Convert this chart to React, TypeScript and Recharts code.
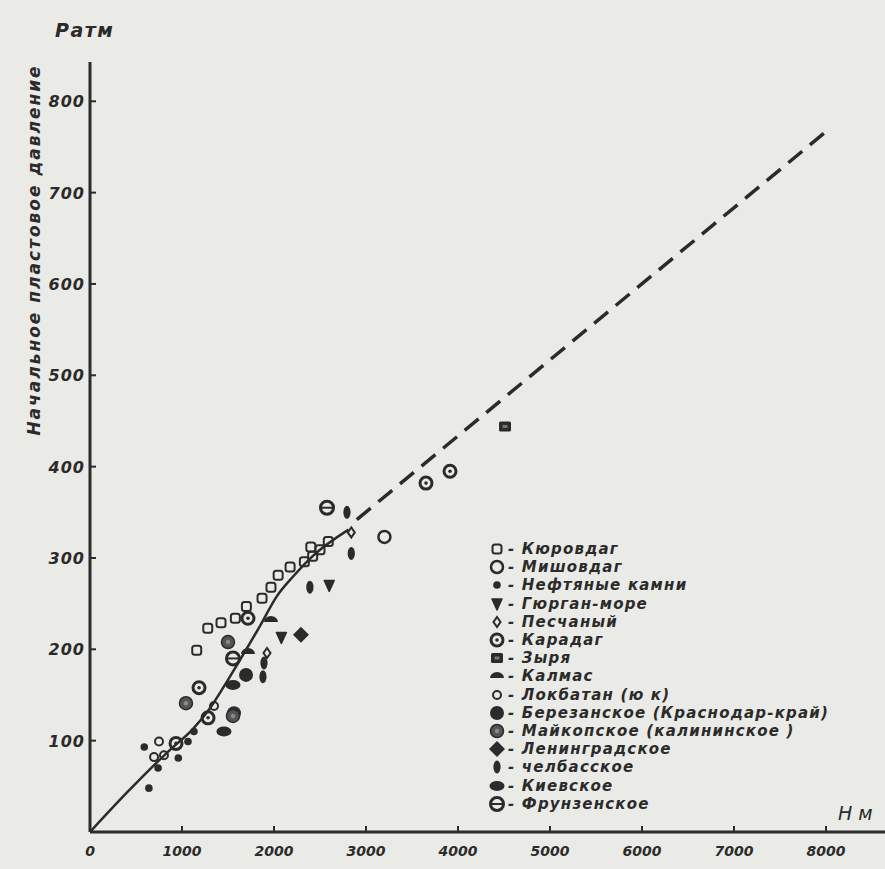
import { ComposedChart, Scatter, Line, XAxis, YAxis, Legend } from "recharts";

const INK = "#2b2b2b";
const PAPER = "#eaeae7";
const FONT = "'DejaVu Sans', sans-serif";

const xTicks = [0, 1000, 2000, 3000, 4000, 5000, 6000, 7000, 8000];
const yTicks = [100, 200, 300, 400, 500, 600, 700, 800];

// сглаженная кривая и её экстраполяция (пунктир)
const curveSolid = [
  { h: 0, p: 0 },
  { h: 400, p: 43 },
  { h: 870, p: 90 },
  { h: 1120, p: 113 },
  { h: 1300, p: 135 },
  { h: 1490, p: 165 },
  { h: 1850, p: 226 },
  { h: 2030, p: 258 },
  { h: 2210, p: 280 },
  { h: 2420, p: 302 },
  { h: 2810, p: 331 },
];
const curveDashed = [
  { h: 2900, p: 342 },
  { h: 8050, p: 771 },
];

// точки по месторождениям: h — глубина, м; p — давление, атм
const kyurovdag = [
  { h: 1160, p: 199 }, { h: 1280, p: 223 }, { h: 1424, p: 229 }, { h: 1580, p: 234 },
  { h: 1700, p: 247 }, { h: 1870, p: 256 }, { h: 1967, p: 268 }, { h: 2045, p: 281 },
  { h: 2175, p: 290 }, { h: 2330, p: 296 }, { h: 2420, p: 302 }, { h: 2400, p: 312 },
  { h: 2500, p: 309 }, { h: 2590, p: 318 },
];
const mishovdag = [{ h: 3200, p: 323 }];
const neftKamni = [
  { h: 590, p: 93 }, { h: 640, p: 48 }, { h: 740, p: 70 }, { h: 960, p: 81 },
  { h: 1065, p: 99 }, { h: 1130, p: 110 },
];
const gyurgan = [{ h: 2600, p: 270 }, { h: 2080, p: 213 }];
const peschany = [{ h: 2840, p: 328 }, { h: 1924, p: 196 }];
const karadag = [
  { h: 3913, p: 395 }, { h: 3652, p: 382 }, { h: 1185, p: 158 }, { h: 935, p: 97 },
  { h: 1717, p: 234 }, { h: 1283, p: 125 },
];
const zyrya = [{ h: 4511, p: 444 }];
const kalmas = [{ h: 1717, p: 197 }, { h: 1967, p: 232 }];
const lokbatan = [
  { h: 750, p: 99 }, { h: 696, p: 82 }, { h: 804, p: 84 }, { h: 1348, p: 138 },
];
const berezanskoe = [{ h: 1696, p: 172 }, { h: 1565, p: 130 }];
const maikopskoe = [{ h: 1500, p: 208 }, { h: 1043, p: 141 }, { h: 1554, p: 127 }];
const leningradskoe = [{ h: 2293, p: 216 }];
const chelbasskoe = [
  { h: 2793, p: 350 }, { h: 2840, p: 305 }, { h: 2390, p: 268 }, { h: 1891, p: 185 },
  { h: 1880, p: 170 },
];
const kievskoe = [{ h: 1456, p: 110 }, { h: 1554, p: 161 }];
const frunzenskoe = [{ h: 2576, p: 355 }, { h: 1554, p: 190 }];

const series = [
  { name: "Кюровдаг", kind: "square", data: kyurovdag },
  { name: "Мишовдаг", kind: "ring", data: mishovdag },
  { name: "Нефтяные камни", kind: "dot", data: neftKamni },
  { name: "Гюрган-море", kind: "triangle", data: gyurgan },
  { name: "Песчаный", kind: "smallDiamond", data: peschany },
  { name: "Карадаг", kind: "bullseye", data: karadag },
  { name: "Зыря", kind: "filledSquare", data: zyrya },
  { name: "Калмас", kind: "halfDisc", data: kalmas },
  { name: "Локбатан (ю к)", kind: "smallRing", data: lokbatan },
  { name: "Березанское (Краснодар-край)", kind: "disc", data: berezanskoe },
  { name: "Майкопское (калининское )", kind: "grayDisc", data: maikopskoe },
  { name: "Ленинградское", kind: "diamond", data: leningradskoe },
  { name: "челбасское", kind: "drop", data: chelbasskoe },
  { name: "Киевское", kind: "lens", data: kievskoe },
  { name: "Фрунзенское", kind: "barRing", data: frunzenskoe },
];

function Marker({ kind, cx, cy }: { kind: string; cx: number; cy: number }) {
  switch (kind) {
    case "square":
      return <rect x={cx - 4.5} y={cy - 4.5} width={9} height={9} rx={2.5} fill="none" stroke={INK} strokeWidth={2} />;
    case "ring":
      return <circle cx={cx} cy={cy} r={6} fill="none" stroke={INK} strokeWidth={2.5} />;
    case "dot":
      return <circle cx={cx} cy={cy} r={3.8} fill={INK} />;
    case "triangle":
      return <path d={`M${cx - 5},${cy - 5} L${cx + 5},${cy - 5} L${cx},${cy + 6} Z`} fill={INK} stroke={INK} strokeWidth={1.5} strokeLinejoin="round" />;
    case "smallDiamond":
      return <path d={`M${cx},${cy - 5} L${cx + 3.5},${cy} L${cx},${cy + 5} L${cx - 3.5},${cy} Z`} fill="none" stroke={INK} strokeWidth={2} />;
    case "bullseye":
      return (
        <g>
          <circle cx={cx} cy={cy} r={6} fill="none" stroke={INK} strokeWidth={3} />
          <circle cx={cx} cy={cy} r={1.8} fill={INK} />
        </g>
      );
    case "filledSquare":
      return (
        <g>
          <rect x={cx - 6} y={cy - 5} width={12} height={10} rx={1.5} fill={INK} />
          <rect x={cx - 2.5} y={cy - 1.5} width={5} height={3} fill="#777" />
        </g>
      );
    case "halfDisc":
      return <path d={`M${cx - 7},${cy + 2} A7,6 0 0 1 ${cx + 7},${cy + 2} Z`} fill={INK} />;
    case "smallRing":
      return <circle cx={cx} cy={cy} r={4} fill="none" stroke={INK} strokeWidth={2} />;
    case "disc":
      return <circle cx={cx} cy={cy} r={7} fill={INK} />;
    case "grayDisc":
      return (
        <g>
          <circle cx={cx} cy={cy} r={6.5} fill="#555" stroke={INK} strokeWidth={1.5} />
          <circle cx={cx} cy={cy} r={2.2} fill="#8a8a8a" />
        </g>
      );
    case "diamond":
      return <path d={`M${cx},${cy - 8} L${cx + 8},${cy} L${cx},${cy + 8} L${cx - 8},${cy} Z`} fill={INK} />;
    case "drop":
      return <ellipse cx={cx} cy={cy} rx={3.6} ry={6.5} fill={INK} />;
    case "lens":
      return <ellipse cx={cx} cy={cy} rx={7.5} ry={5} fill={INK} />;
    case "barRing":
      return (
        <g>
          <circle cx={cx} cy={cy} r={6.5} fill="none" stroke={INK} strokeWidth={3} />
          <line x1={cx - 5} x2={cx + 5} y1={cy} y2={cy} stroke={INK} strokeWidth={2} />
        </g>
      );
    default:
      return null;
  }
}

const XTick = (props: any) => {
  const { x, y, payload } = props;
  return (
    <g>
      {payload.value !== 0 && <line x1={x} x2={x} y1={y - 12} y2={y - 18} stroke={INK} strokeWidth={2} />}
      <text x={x} y={y} dy={12} textAnchor="middle" fill={INK} fontSize={14} fontStyle="italic" fontWeight="bold" fontFamily={FONT}>
        {payload.value}
      </text>
    </g>
  );
};

const YTick = (props: any) => {
  const { x, y, payload } = props;
  return (
    <g>
      <line x1={x + 12} x2={x + 18} y1={y} y2={y} stroke={INK} strokeWidth={2} />
      <text x={x + 7} y={y} dy={6} textAnchor="end" fill={INK} fontSize={16} fontStyle="italic" fontWeight="bold" fontFamily={FONT} letterSpacing={1}>
        {payload.value}
      </text>
    </g>
  );
};

const LegendBox = () => (
  <div style={{ fontFamily: FONT, fontStyle: "italic", fontWeight: "bold", fontSize: 15, letterSpacing: 1.2, color: INK }}>
    {series.map((s) => (
      <div key={s.name} style={{ display: "flex", alignItems: "center", height: 18.2, whiteSpace: "nowrap" }}>
        <svg width={18} height={18} style={{ flex: "none" }}>
          <Marker kind={s.kind} cx={9} cy={9} />
        </svg>
        <span style={{ marginLeft: 2 }}>- {s.name}</span>
      </div>
    ))}
  </div>
);

export default function App() {
  const titleStyle = {
    position: "absolute" as const,
    fontFamily: FONT,
    fontStyle: "italic",
    fontWeight: "bold" as const,
    color: INK,
    whiteSpace: "nowrap" as const,
  };
  return (
    <div style={{ position: "absolute", left: 0, top: 0, width: 885, height: 869, background: PAPER, overflow: "hidden" }}>
      <ComposedChart width={885} height={869} margin={{ top: 62, right: 0, left: 30, bottom: 7 }}>
        <XAxis
          type="number"
          dataKey="h"
          domain={[0, 8641]}
          ticks={xTicks}
          interval={0}
          height={30}
          tickSize={6}
          tickMargin={6}
          tickLine={false}
          axisLine={{ stroke: INK, strokeWidth: 3 }}
          tick={<XTick />}
          allowDataOverflow
        />
        <YAxis
          type="number"
          dataKey="p"
          domain={[0, 843]}
          ticks={yTicks}
          interval={0}
          width={60}
          tickSize={6}
          tickMargin={6}
          tickLine={false}
          axisLine={{ stroke: INK, strokeWidth: 3 }}
          tick={<YTick />}
          allowDataOverflow
        />
        <Line data={curveSolid} dataKey="p" type="monotone" stroke={INK} strokeWidth={2.5} dot={false} activeDot={false} isAnimationActive={false} legendType="none" />
        <Line data={curveDashed} dataKey="p" type="linear" stroke={INK} strokeWidth={3.5} strokeDasharray="18 10" dot={false} activeDot={false} isAnimationActive={false} legendType="none" />
        {series.map((s) => (
          <Scatter
            key={s.name}
            name={s.name}
            data={s.data}
            dataKey="p"
            isAnimationActive={false}
            shape={(p: any) => <Marker kind={s.kind} cx={p.cx} cy={p.cy} />}
          />
        ))}
        <Legend
          layout="horizontal"
          verticalAlign="middle"
          align="center"
          content={() => <LegendBox />}
          wrapperStyle={{ left: 488, top: 540, width: 360, height: 280 }}
        />
      </ComposedChart>
      <div style={{ ...titleStyle, left: 55, top: 19, fontSize: 19, letterSpacing: 1.5 }}>Ратм</div>
      <div style={{ ...titleStyle, left: 838, top: 802, fontSize: 19, fontWeight: "normal" }}>Н м</div>
      <div
        style={{
          ...titleStyle,
          left: 34,
          top: 250,
          fontSize: 17,
          letterSpacing: 2,
          transform: "translate(-50%, -50%) rotate(-90deg)",
        }}
      >
        Начальное пластовое давление
      </div>
    </div>
  );
}
